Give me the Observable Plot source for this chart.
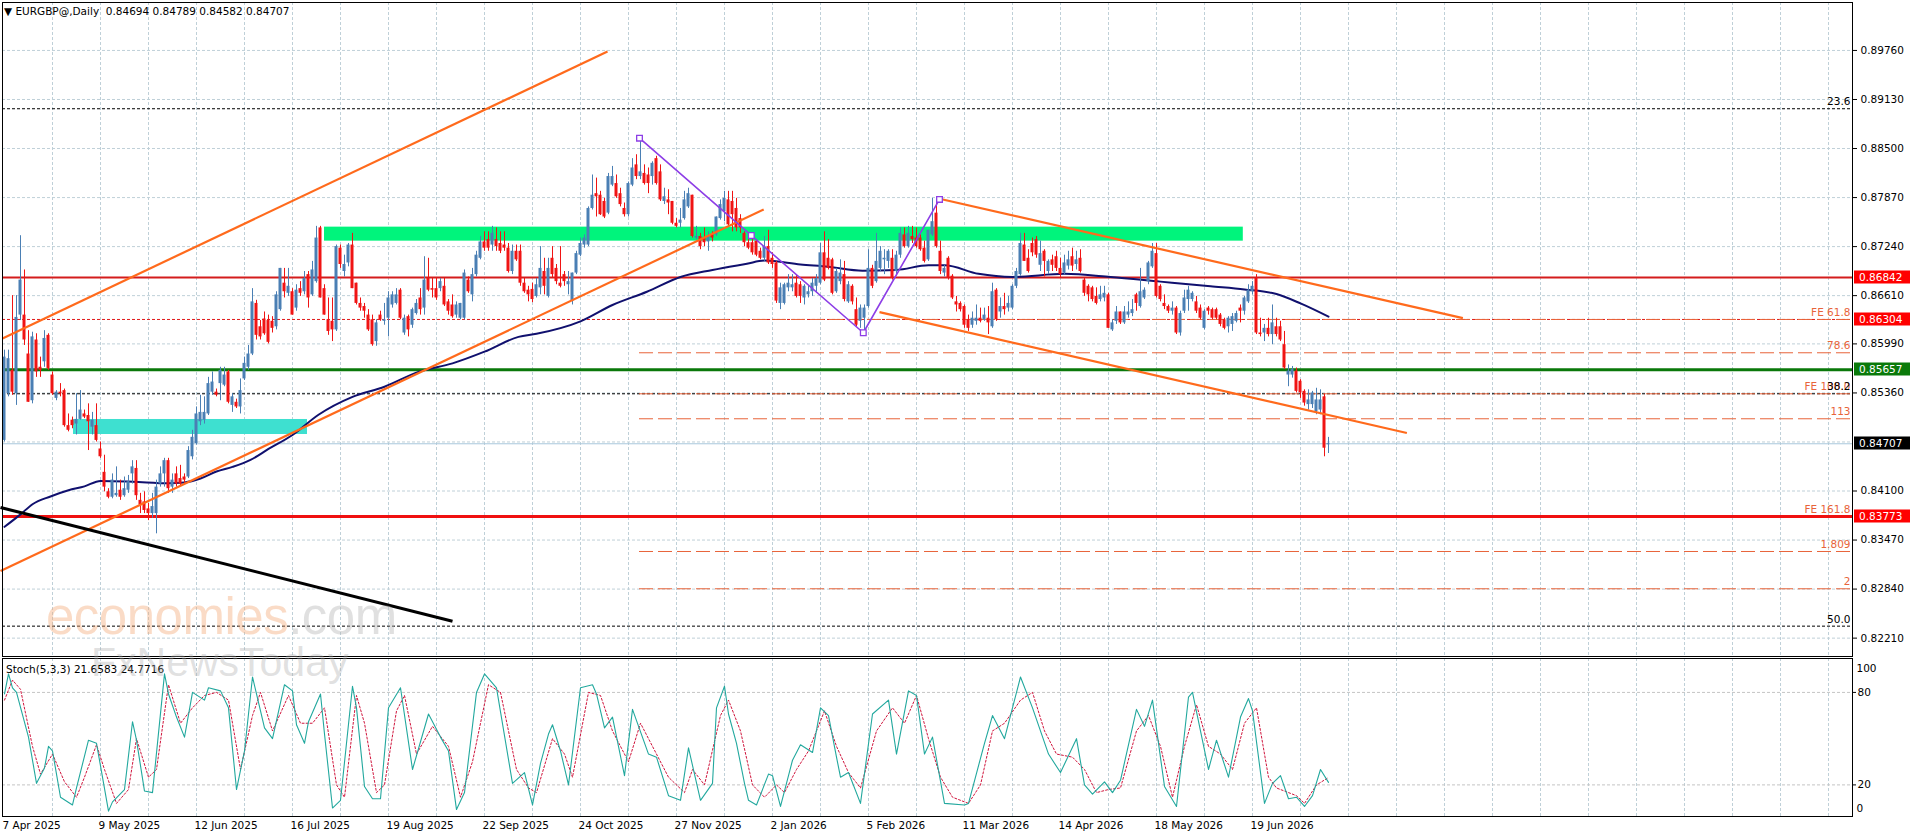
<!DOCTYPE html>
<html>
<head>
<meta charset="utf-8">
<script src="https://cdn.jsdelivr.net/npm/d3@7"></script>
<script src="https://cdn.jsdelivr.net/npm/@observablehq/plot@0.6"></script>
<style>
html,body{margin:0;padding:0;background:#fff;}
#wrap{position:relative;width:1916px;height:840px;overflow:hidden;font-family:"DejaVu Sans",sans-serif;background:#fff;}
#main,#stoch{position:absolute;left:0;}
#main{top:0;} #stoch{top:656px;}
.title{position:absolute;left:4px;top:5px;font-size:10.5px;color:#000;white-space:pre;}
.stochlbl{position:absolute;left:6px;top:663px;font-size:10.5px;color:#000;white-space:pre;}
.wm1{position:absolute;left:46px;top:587px;font-family:"Liberation Sans",Arial,sans-serif;font-size:51px;letter-spacing:-0.5px;white-space:pre;}
.wm1 .a{color:rgba(243,170,120,0.42);} .wm1 .b{color:rgba(180,180,180,0.42);}
.wm2{position:absolute;left:91px;top:639px;font-family:"Liberation Sans",Arial,sans-serif;font-size:41px;color:rgba(170,170,170,0.36);white-space:pre;}
</style>
</head>
<body>
<div id="wrap">
  <div id="main"></div>
  <div id="stoch"></div>
  <div class="title">▼ EURGBP@,Daily  0.84694 0.84789 0.84582 0.84707</div>
  <div class="stochlbl">Stoch(5,3,3) 21.6583 24.7716</div>
  <div class="wm1"><span class="a">economies</span><span class="b">.com</span></div>
  <div class="wm2">FxNewsToday</div>
</div>
<script>
// ---------- DATA ----------
const dateLabels = ["7 Apr 2025","9 May 2025","12 Jun 2025","16 Jul 2025","19 Aug 2025","22 Sep 2025","24 Oct 2025","27 Nov 2025","2 Jan 2026","5 Feb 2026","11 Mar 2026","14 Apr 2026","18 May 2026","19 Jun 2026"];
const labelIdx = [0,24,48,72,96,120,144,168,192,216,240,264,288,312];
const priceTicks = [0.89760,0.89130,0.88500,0.87870,0.87240,0.86610,0.85990,0.85360,0.84100,0.83470,0.82840,0.82210];
const gridPrices = [0.89760,0.89130,0.88500,0.87870,0.87240,0.86610,0.85990,0.85360,0.84730,0.84100,0.83470,0.82840,0.82210];

const opens = [
.8475,.8535,.8565,.8535,.8636,.8636,.8586,.8526,.8604,.8569,
.8576,.8610,.8559,.8529,.8537,.8539,.8494,.8501,.8496,.8502,
.8509,.8507,.8492,.8494,.8464,.8434,.8409,.8402,.8404,.8411,
.8404,.8411,.8432,.8439,.8398,.8396,.8387,.8381,.8381,.8419,
.8432,.8449,.8415,.8432,.8426,.8428,.8428,.8454,.8471,.8499,
.8501,.8509,.8537,.8537,.8548,.8546,.8563,.8520,.8524,.8518,
.8554,.8569,.8586,.8651,.8621,.8631,.8629,.8628,.8621,.8643,
.8677,.8664,.8666,.8645,.8670,.8666,.8688,.8662,.8679,.8748,
.8670,.8630,.8628,.8617,.8722,.8692,.8703,.8726,.8677,.8651,
.8647,.8636,.8630,.8602,.8636,.8628,.8632,.8649,.8651,.8668,
.8613,.8634,.8623,.8638,.8658,.8645,.8683,.8670,.8670,.8670,
.8673,.8653,.8649,.8636,.8632,.8632,.8681,.8662,.8688,.8709,
.8730,.8733,.8726,.8733,.8728,.8726,.8722,.8692,.8718,.8718,
.8677,.8668,.8669,.8660,.8671,.8692,.8660,.8709,.8696,.8677,
.8688,.8675,.8654,.8690,.8713,.8726,.8726,.8773,.8792,.8790,
.8782,.8767,.8803,.8805,.8792,.8773,.8765,.8803,.8829,.8814,
.8818,.8816,.8814,.8837,.8820,.8782,.8784,.8782,.8754,.8754,
.8760,.8775,.8790,.8735,.8737,.8735,.8730,.8739,.8739,.8760,
.8769,.8784,.8782,.8773,.8760,.8741,.8729,.8729,.8731,.8718,
.8709,.8724,.8709,.8703,.8651,.8651,.8671,.8671,.8677,.8675,
.8658,.8662,.8666,.8673,.8677,.8716,.8709,.8707,.8666,.8679,
.8688,.8653,.8673,.8643,.8628,.8632,.8647,.8696,.8679,.8696,
.8707,.8705,.8709,.8692,.8713,.8739,.8724,.8737,.8735,.8735,
.8722,.8707,.8739,.8767,.8718,.8690,.8709,.8686,.8653,.8651,
.8647,.8630,.8623,.8628,.8632,.8630,.8632,.8621,.8668,.8640,
.8647,.8645,.8645,.8673,.8688,.8726,.8709,.8728,.8733,.8700,
.8718,.8692,.8707,.8711,.8696,.8690,.8699,.8711,.8701,.8709,
.8681,.8673,.8671,.8660,.8656,.8658,.8662,.8617,.8628,.8640,
.8626,.8636,.8638,.8662,.8647,.8658,.8679,.8698,.8715,.8673,
.8651,.8647,.8641,.8645,.8613,.8641,.8656,.8656,.8653,.8645,
.8619,.8645,.8643,.8643,.8636,.8630,.8621,.8624,.8628,.8645,
.8641,.8653,.8666,.8683,.8613,.8613,.8619,.8611,.8621,.8621,
.8598,.8559,.8559,.8564,.8551,.8538,.8521,.8521,.8512,.8514,
.8531,.84694];
const highs = [
.8591,.8591,.8661,.8661,.8738,.8694,.8616,.8614,.8612,.8582,
.8616,.8612,.8563,.8539,.8548,.8541,.8509,.8505,.8535,.8539,
.8514,.8522,.8511,.8522,.8473,.8456,.8413,.8432,.8441,.8424,
.8428,.8430,.8449,.8449,.8407,.8409,.8394,.8407,.8424,.8441,
.8452,.8452,.8432,.8441,.8443,.8432,.8467,.8488,.8518,.8533,
.8531,.8556,.8563,.8541,.8569,.8569,.8565,.8535,.8528,.8554,
.8582,.8597,.8670,.8655,.8629,.8640,.8636,.8634,.8666,.8696,
.8696,.8696,.8670,.8675,.8679,.8692,.8692,.8705,.8750,.8750,
.8675,.8658,.8658,.8726,.8726,.8713,.8728,.8741,.8677,.8658,
.8651,.8643,.8636,.8630,.8641,.8651,.8666,.8666,.8670,.8670,
.8636,.8636,.8645,.8656,.8670,.8711,.8709,.8683,.8683,.8683,
.8683,.8656,.8662,.8653,.8651,.8694,.8685,.8696,.8718,.8737,
.8743,.8743,.8750,.8748,.8743,.8743,.8728,.8726,.8726,.8726,
.8683,.8673,.8677,.8683,.8724,.8709,.8709,.8724,.8701,.8724,
.8692,.8692,.8690,.8718,.8735,.8739,.8775,.8816,.8812,.8795,
.8786,.8818,.8827,.8816,.8799,.8780,.8807,.8837,.8842,.8861,
.8829,.8825,.8833,.8840,.8829,.8799,.8797,.8782,.8760,.8773,
.8795,.8799,.8790,.8750,.8741,.8748,.8743,.8743,.8762,.8784,
.8795,.8795,.8795,.8786,.8765,.8743,.8733,.8735,.8733,.8722,
.8737,.8745,.8716,.8705,.8677,.8677,.8688,.8688,.8688,.8679,
.8675,.8673,.8683,.8688,.8728,.8743,.8733,.8709,.8696,.8707,
.8705,.8679,.8675,.8658,.8649,.8649,.8720,.8700,.8741,.8724,
.8720,.8720,.8720,.8718,.8748,.8748,.8750,.8750,.8748,.8739,
.8731,.8745,.8786,.8784,.8731,.8700,.8711,.8688,.8660,.8653,
.8649,.8636,.8640,.8649,.8645,.8645,.8647,.8677,.8670,.8658,
.8664,.8660,.8675,.8696,.8741,.8741,.8720,.8735,.8737,.8731,
.8720,.8707,.8713,.8718,.8709,.8713,.8718,.8722,.8718,.8720,
.8683,.8675,.8673,.8671,.8673,.8673,.8664,.8630,.8647,.8640,
.8647,.8653,.8656,.8664,.8696,.8671,.8705,.8728,.8728,.8675,
.8662,.8649,.8653,.8647,.8641,.8668,.8673,.8666,.8660,.8649,
.8643,.8647,.8645,.8645,.8638,.8632,.8634,.8638,.8641,.8649,
.8660,.8675,.8679,.8688,.8632,.8624,.8632,.8649,.8632,.8628,
.8615,.8572,.8570,.8568,.8553,.8540,.8540,.8538,.8542,.8540,
.8534,.84789];
const lows = [
.8473,.8531,.8533,.8520,.8629,.8597,.8524,.8522,.8556,.8556,
.8569,.8565,.8533,.8526,.8531,.8492,.8486,.8490,.8482,.8501,
.8503,.8462,.8482,.8473,.8452,.8409,.8400,.8400,.8402,.8398,
.8402,.8407,.8419,.8398,.8381,.8381,.8372,.8375,.8355,.8415,
.8415,.8407,.8407,.8415,.8417,.8420,.8426,.8450,.8469,.8494,
.8496,.8507,.8533,.8531,.8526,.8544,.8522,.8511,.8516,.8509,
.8552,.8565,.8584,.8604,.8604,.8610,.8599,.8613,.8617,.8641,
.8658,.8660,.8636,.8641,.8660,.8662,.8645,.8660,.8677,.8658,
.8636,.8610,.8602,.8615,.8696,.8685,.8698,.8670,.8649,.8641,
.8632,.8615,.8596,.8596,.8628,.8623,.8608,.8645,.8649,.8630,
.8610,.8608,.8619,.8636,.8636,.8636,.8666,.8658,.8655,.8666,
.8647,.8636,.8632,.8632,.8630,.8630,.8664,.8653,.8685,.8707,
.8718,.8718,.8718,.8718,.8715,.8718,.8690,.8688,.8705,.8673,
.8664,.8653,.8652,.8658,.8662,.8662,.8658,.8684,.8675,.8671,
.8673,.8662,.8649,.8688,.8711,.8722,.8724,.8771,.8762,.8764,
.8760,.8765,.8801,.8786,.8775,.8762,.8762,.8801,.8810,.8810,
.8803,.8792,.8803,.8803,.8782,.8778,.8765,.8752,.8748,.8748,
.8758,.8773,.8735,.8733,.8720,.8724,.8718,.8730,.8737,.8758,
.8756,.8750,.8743,.8743,.8741,.8724,.8720,.8713,.8711,.8707,
.8705,.8701,.8696,.8651,.8643,.8649,.8666,.8666,.8658,.8651,
.8649,.8658,.8660,.8664,.8675,.8679,.8694,.8662,.8664,.8675,
.8653,.8651,.8649,.8621,.8619,.8613,.8645,.8670,.8677,.8692,
.8688,.8696,.8681,.8688,.8709,.8722,.8722,.8728,.8722,.8718,
.8703,.8705,.8737,.8722,.8688,.8685,.8681,.8656,.8640,.8640,
.8619,.8615,.8619,.8623,.8626,.8628,.8611,.8619,.8628,.8632,
.8636,.8640,.8643,.8670,.8686,.8705,.8690,.8711,.8709,.8692,
.8685,.8688,.8692,.8692,.8683,.8688,.8694,.8692,.8694,.8690,
.8660,.8653,.8653,.8649,.8653,.8653,.8619,.8615,.8624,.8624,
.8624,.8632,.8634,.8641,.8645,.8656,.8675,.8696,.8658,.8653,
.8643,.8638,.8636,.8611,.8609,.8638,.8641,.8653,.8638,.8630,
.8617,.8636,.8630,.8630,.8621,.8617,.8613,.8615,.8626,.8626,
.8636,.8651,.8662,.8611,.8608,.8602,.8608,.8598,.8608,.8602,
.8566,.8544,.8555,.8536,.8529,.8519,.8514,.8516,.8508,.8508,
.8454,.84582];
const closes = [
.8582,.8580,.8537,.8633,.8681,.8604,.8524,.8608,.8563,.8565,
.8606,.8567,.8535,.8537,.8535,.8494,.8488,.8494,.8502,.8514,
.8505,.8499,.8501,.8475,.8454,.8415,.8402,.8424,.8407,.8402,
.8413,.8422,.8441,.8404,.8392,.8385,.8381,.8390,.8415,.8432,
.8449,.8413,.8424,.8419,.8419,.8424,.8462,.8479,.8509,.8511,
.8511,.8548,.8550,.8533,.8565,.8559,.8524,.8531,.8518,.8539,
.8574,.8586,.8653,.8610,.8608,.8612,.8601,.8619,.8662,.8696,
.8666,.8673,.8636,.8668,.8664,.8683,.8658,.8694,.8735,.8658,
.8636,.8615,.8617,.8724,.8701,.8701,.8726,.8670,.8651,.8645,
.8641,.8617,.8598,.8626,.8630,.8630,.8658,.8662,.8662,.8632,
.8632,.8617,.8643,.8651,.8643,.8681,.8668,.8668,.8658,.8679,
.8649,.8641,.8634,.8649,.8651,.8690,.8666,.8688,.8713,.8730,
.8722,.8722,.8741,.8724,.8718,.8722,.8692,.8718,.8707,.8677,
.8666,.8662,.8656,.8675,.8696,.8673,.8696,.8688,.8679,.8673,
.8679,.8679,.8690,.8715,.8728,.8735,.8773,.8790,.8788,.8765,
.8762,.8814,.8814,.8788,.8778,.8765,.8805,.8825,.8814,.8820,
.8805,.8805,.8831,.8805,.8784,.8788,.8780,.8754,.8750,.8758,
.8784,.8792,.8737,.8737,.8724,.8729,.8737,.8735,.8762,.8778,
.8786,.8752,.8765,.8748,.8748,.8729,.8722,.8716,.8713,.8709,
.8724,.8703,.8701,.8654,.8671,.8675,.8677,.8675,.8660,.8660,
.8673,.8666,.8677,.8683,.8716,.8681,.8696,.8664,.8692,.8690,
.8656,.8675,.8653,.8623,.8645,.8645,.8696,.8673,.8705,.8718,
.8709,.8718,.8683,.8713,.8741,.8724,.8741,.8733,.8724,.8720,
.8705,.8745,.8756,.8724,.8692,.8696,.8683,.8658,.8649,.8643,
.8623,.8619,.8632,.8632,.8628,.8636,.8626,.8666,.8630,.8647,
.8643,.8651,.8673,.8692,.8728,.8705,.8692,.8716,.8713,.8715,
.8705,.8705,.8700,.8696,.8688,.8703,.8707,.8699,.8707,.8692,
.8664,.8662,.8656,.8651,.8662,.8664,.8619,.8626,.8640,.8626,
.8640,.8640,.8643,.8651,.8666,.8668,.8703,.8718,.8660,.8656,
.8647,.8641,.8645,.8613,.8638,.8658,.8668,.8664,.8641,.8632,
.8641,.8641,.8632,.8632,.8624,.8619,.8632,.8634,.8638,.8641,
.8658,.8668,.8673,.8613,.8611,.8619,.8611,.8626,.8611,.8604,
.8568,.8564,.8566,.8538,.8536,.8523,.8527,.8536,.8527,.8527,
.8465,.84707];

// moving average
const maIdx = [0,4,7,11.5,16,20,24,32,41,45,49,53,57,61.5,66,72,78.5,87,95,103.5,112,120,128.5,133,144,152,160.6,169,177,185.6,190,199,206,214.5,223,231,235,243.5,252,265,276.5,289,301.5,310,318,324,331];
const maVal = [.8364,.8380,.8393,.8403,.8411,.8416,.8423,.8422,.8420,.8421,.8426,.8435,.8441,.8450,.8464,.8482,.8508,.8531,.8544,.8563,.8574,.8589,.8608,.8612,.8628,.8649,.8666,.8685,.8694,.8702,.8706,.8701,.8698,.8693,.8694,.8700,.8700,.8689,.8685,.8689,.8685,.8679,.8673,.8669,.8663,.8651,.8634];

// stochastic %K and %D
const kIdx = [0,1,2,3,6,8,10,11,12,14,17,18,21,23,26,27,30,32,33,35,37,40,41,43,45,47,50,51,54,56,58,60,62,63,65,67,70,72,73,75,76,79,80,82,84,87,88,90,92,94,96,99,102,106,109,111,113,115,118,120,123,127,130,132,134,136,137,139,141,144,147,148,150,152,155,157,161,163,166,169,171,174,177,178,180,181,183,185,186,188,191,192,194,197,199,202,204,206,208,209,211,214,217,221,223,226,228,230,232,235,240,241,245,247,250,254,257,261,264,268,270,272,275,277,279,283,285,287,290,293,296,297,301,303,306,309,311,312,315,317,319,321,323,325,327,329,331];
const kVal = [79,92,83,80,51,21,31,45,42,12,7,18,49,47,3,9,17,61,49,16,15,92,79,64,51,80,75,83,81,70,17,42,90,79,57,50,85,81,59,47,61,79,53,5,10,84,70,19,11,11,70,83,30,66,51,42,4,15,80,92,83,21,28,7,34,53,59,42,20,83,85,79,57,64,26,69,40,38,13,10,44,10,21,70,84,66,47,21,10,7,27,26,6,36,46,41,70,65,38,25,28,8,66,75,40,81,78,40,51,8,7,8,47,65,50,90,70,40,28,50,20,14,22,15,23,69,58,75,19,6,77,80,30,49,25,64,76,68,8,21,26,11,12,6,13,30,21.66];
const dIdx = [0,2,4,7,9,12,15,18,20,23,25,28,31,33,36,38,41,44,47,50,53,56,59,62,64,67,71,74,77,80,83,85,88,90,93,95,98,100,103,107,111,114,117,121,124,128,131,133,137,140,142,146,149,152,156,159,162,166,170,172,175,179,181,184,187,190,193,195,198,201,205,208,211,214,218,222,225,228,231,234,237,241,244,247,250,254,257,260,263,267,270,273,276,279,283,286,289,292,295,298,301,304,307,310,313,316,318,321,323,325,328,331];
const dVal = [75,88,82,45,27,40,22,12,25,46,30,8,17,50,25,30,85,60,70,78,80,75,30,65,80,55,78,60,60,70,20,12,78,60,15,20,68,78,40,58,45,12,35,85,80,30,18,15,50,40,25,80,78,55,35,60,45,25,15,30,20,65,75,55,20,12,20,15,30,42,68,45,28,18,55,70,60,78,50,25,12,8,20,55,60,75,80,55,40,38,30,15,17,18,55,65,45,12,45,72,45,40,30,60,70,25,18,15,13,8,20,24.77];

// horizontal levels
const fibRetr = [0.89011,0.85349,0.82364];
const fibRetrText = ["23.6","38.2","50.0"];
const feLevels = [0.86304,0.85876,0.85349,0.85028,0.83773,0.83323,0.82844];
const feText = ["FE 61.8","78.6","FE 100.0","113","FE 161.8","1.809","2"];
const feStart = 158.75;
const resistance = 0.86842, fe618 = 0.86304, support = 0.85657, fe1618 = 0.83773, lastPrice = 0.84707;

// zones [i1, i2, p1, p2]
const greenZone = [80, 309.7, 0.87310, 0.87490];
const cyanZone = [17.25, 75.75, 0.84826, 0.85019];

// trend lines [i1, p1, i2, p2]
const orangeLines = [
  [-0.5, 0.86060, 150.75, 0.89747],
  [-1, 0.83072, 189.8, 0.87717],
  [233.75, 0.87855, 364.6, 0.86321],
  [218.75, 0.86398, 350.6, 0.84845]
];
const blackLine = [-1, 0.83889, 112, 0.82427];
const purpleIdx = [158.75, 186.7, 214.7, 233.75];
const purpleVal = [0.88633, 0.87383, 0.86133, 0.87846];

// ---------- BUILD ----------
const bars = closes.map((c, i) => ({i, o: opens[i], h: highs[i], l: lows[i], c}));
const up = bars.filter(d => d.c >= d.o), dn = bars.filter(d => d.c < d.o);
const ma = maIdx.map((x, k) => ({x, y: maVal[k]}));
const kPts = kIdx.map((i, k) => ({i, v: kVal[k]}));
const dPts = dIdx.map((i, k) => ({i, v: dVal[k]}));
const purple = purpleIdx.map((i, k) => ({i, v: purpleVal[k]}));
const tl = (a) => ({x1: a[0], y1: a[1], x2: a[2], y2: a[3]});
const xDomain = [-0.5, 462];
const gridIdx = d3.range(12, 462, 12);
const GRID = "#bfd0d8";
const UP = "#4a7fb4", DN = "#f01414";
const ORANGE = "#ff6a1c", FEC = "#e8643a";
const font = "DejaVu Sans";

const main = Plot.plot({
  width: 1916, height: 657, marginLeft: 2, marginRight: 64, marginTop: 2, marginBottom: 1,
  x: {domain: xDomain, axis: null},
  y: {domain: [0.81974, 0.90376], axis: null, label: null},
  style: {background: "transparent", fontFamily: font, fontSize: "10.5px", color: "#000"},
  marks: [
    Plot.gridX(gridIdx, {stroke: GRID, strokeOpacity: 1, strokeDasharray: "3,2"}),
    Plot.gridY(gridPrices, {stroke: GRID, strokeOpacity: 1, strokeDasharray: "3,2"}),
    Plot.rect([greenZone], {x1: d => d[0], x2: d => d[1], y1: d => d[2], y2: d => d[3], fill: "#00f47c"}),
    Plot.rect([cyanZone], {x1: d => d[0], x2: d => d[1], y1: d => d[2], y2: d => d[3], fill: "#3ee0d0"}),
    Plot.ruleY(fibRetr, {stroke: "#000", strokeWidth: 1, strokeDasharray: "3,2"}),
    Plot.ruleY([fe618], {stroke: "#e01818", strokeWidth: 1, strokeDasharray: "3,2"}),
    Plot.ruleY(feLevels, {x1: feStart, x2: xDomain[1], stroke: FEC, strokeWidth: 1, strokeDasharray: "14,5"}),
    Plot.ruleY([lastPrice], {stroke: "#a8c8dc", strokeWidth: 1}),
    Plot.ruleY([resistance], {stroke: "#d41c1c", strokeWidth: 2}),
    Plot.ruleY([support], {stroke: "#0a780a", strokeWidth: 3}),
    Plot.ruleY([fe1618], {stroke: "#f01010", strokeWidth: 3}),
    Plot.line(ma, {x: "x", y: "y", stroke: "#10106e", strokeWidth: 2, curve: "monotone-x"}),
    Plot.ruleX(up, {x: "i", y1: "l", y2: "h", stroke: UP, strokeWidth: 1}),
    Plot.ruleX(dn, {x: "i", y1: "l", y2: "h", stroke: DN, strokeWidth: 1}),
    Plot.rect(up, {x1: d => d.i - 0.375, x2: d => d.i + 0.375, y1: "o", y2: "c", fill: UP}),
    Plot.rect(dn, {x1: d => d.i - 0.375, x2: d => d.i + 0.375, y1: "o", y2: "c", fill: DN}),
    Plot.link(orangeLines.map(tl), {x1: "x1", y1: "y1", x2: "x2", y2: "y2", stroke: ORANGE, strokeWidth: 2.2}),
    Plot.link([tl(blackLine)], {x1: "x1", y1: "y1", x2: "x2", y2: "y2", stroke: "#000", strokeWidth: 3}),
    Plot.line(purple, {x: "i", y: "v", stroke: "#8d3ee6", strokeWidth: 1.6}),
    Plot.dot(purple, {x: "i", y: "v", symbol: "square", r: 3.2, stroke: "#8d3ee6", fill: "#fff", strokeWidth: 1.3}),
    Plot.text(feLevels, {y: d => d, text: (d, k) => feText[k], frameAnchor: "right", textAnchor: "end", dx: -2, dy: -7, fill: FEC, fontSize: 10.5}),
    Plot.text(fibRetr, {y: d => d, text: (d, k) => fibRetrText[k], frameAnchor: "right", textAnchor: "end", dx: -2, dy: -7, fill: "#000", fontSize: 10.5}),
    Plot.frame({stroke: "#000"}),
    Plot.axisY(priceTicks, {anchor: "right", tickSize: 4, tickPadding: 4, tickFormat: d => d.toFixed(5), label: null, fontSize: 10.5})
  ]
});
document.getElementById("main").appendChild(main);

// price label boxes on the axis
const ysd = main.scale("y");
const yS = d3.scaleLinear(ysd.domain, ysd.range);
const boxes = [
  {v: resistance, bg: "#ff0000"},
  {v: fe618, bg: "#ff0000"},
  {v: support, bg: "#0a7a0a"},
  {v: lastPrice, bg: "#000000"},
  {v: fe1618, bg: "#ff0000"}
];
const svg = d3.select(main);
for (const b of boxes) {
  const y = Math.round(yS(b.v));
  svg.append("rect").attr("x", 1854).attr("y", y - 6.5).attr("width", 56).attr("height", 13).attr("fill", b.bg);
  svg.append("text").attr("x", 1859).attr("y", y).attr("dy", "0.36em").attr("fill", "#fff")
    .attr("text-anchor", "start")
    .attr("font-family", font).attr("font-size", "10.5px").text(b.v.toFixed(5));
}

const stoch = Plot.plot({
  width: 1916, height: 184, marginLeft: 2, marginRight: 64, marginTop: 2, marginBottom: 24,
  x: {domain: xDomain, axis: null},
  y: {domain: [-0.5, 102], axis: null, label: null},
  style: {background: "transparent", fontFamily: font, fontSize: "10.5px", color: "#000"},
  marks: [
    Plot.gridX(gridIdx, {stroke: GRID, strokeOpacity: 1, strokeDasharray: "3,2"}),
    Plot.gridY([20, 80], {stroke: "#c4c4c4", strokeOpacity: 1, strokeDasharray: "3,2"}),
    Plot.line(dPts, {x: "i", y: "v", stroke: "#d0143c", strokeWidth: 1, strokeDasharray: "2,2"}),
    Plot.line(kPts, {x: "i", y: "v", stroke: "#22a89e", strokeWidth: 1.1}),
    Plot.frame({stroke: "#000"}),
    Plot.axisY([20, 80], {anchor: "right", tickSize: 3, tickPadding: 2, label: null, fontSize: 10.5}),
    Plot.text([100], {y: d => d, text: d => String(d), frameAnchor: "right", textAnchor: "start", dx: 4, dy: 7, fontSize: 10.5}),
    Plot.text([0], {y: d => d, text: d => String(d), frameAnchor: "right", textAnchor: "start", dx: 4, dy: -7, fontSize: 10.5}),
    Plot.axisX(labelIdx, {anchor: "bottom", tickSize: 0, tickPadding: 5, tickFormat: d => dateLabels[labelIdx.indexOf(d)], textAnchor: "start", dx: -2, label: null, fontSize: 10.5})
  ]
});
document.getElementById("stoch").appendChild(stoch);
</script>
</body>
</html>
